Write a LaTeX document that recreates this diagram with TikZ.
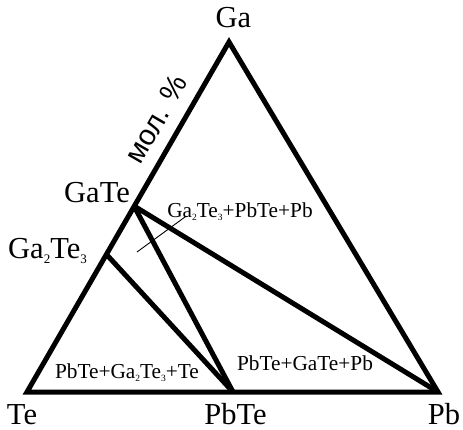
\documentclass[tikz,border=0pt]{standalone}
\usepackage{fontspec}
\setmainfont{Liberation Serif}
\newfontfamily\rusf{Liberation Sans}
\newcommand\bsub[1]{\raisebox{-5pt}{\fontsize{13}{13}\selectfont #1}}
\newcommand\ssub[1]{\raisebox{-3pt}{\fontsize{9.5}{9.5}\selectfont #1}}
\begin{document}
\begin{tikzpicture}[x=1pt,y=-1pt,
  big/.style={font=\fontsize{30.5}{30.5}\selectfont, inner sep=0pt, anchor=base},
  small/.style={font=\fontsize{21.3}{21.3}\selectfont, inner sep=0pt, anchor=base},
  edge/.style={line width=5pt, line join=miter},
  tie/.style={line width=5pt},
  leader/.style={line width=0.9pt}]
\useasboundingbox (0,0) rectangle (463,430);
\coordinate (Ga) at (229,42);
\coordinate (Te) at (27,392);
\coordinate (Pb) at (438,392);
\coordinate (GaTe) at (134,206);
\coordinate (Ga2Te3) at (107,255);
\coordinate (PbTe) at (233,392);
\draw[edge] (Te) -- (Ga) -- (Pb) -- cycle;
\draw[tie] (GaTe) -- (PbTe);
\draw[tie] (GaTe) -- (Pb);
\draw[tie] (Ga2Te3) -- (PbTe);
\node[big] (lGa) at (233.5,28) {Ga};
\node[big] (lTe) at (22,424) {Te};
\node[big] (lPbTe) at (235.5,424) {PbTe};
\node[big] (lPb) at (444,424) {Pb};
\node[big] (lGaTe) at (97,203) {GaTe};
\node[big, anchor=base west] (lGa2Te3) at (8,259) {Ga\bsub{2}Te\bsub{3}};
\node[small] (l1) at (240,218) {Ga\ssub{2}Te\ssub{3}+PbTe+Pb};
\node[small] (l2) at (127,378) {PbTe+Ga\ssub{2}Te\ssub{3}+Te};
\node[small] (l3) at (305,370) {PbTe+GaTe+Pb};
\coordinate (lf) at (137,252);
\coordinate (lt) at (185,217);
\draw[leader] (lf) -- (lt);
\node[font=\rusf\fontsize{29}{29}\selectfont, rotate=60, inner sep=0pt] (mol) at (156,119) {мол. \%};
\end{tikzpicture}
\end{document}
